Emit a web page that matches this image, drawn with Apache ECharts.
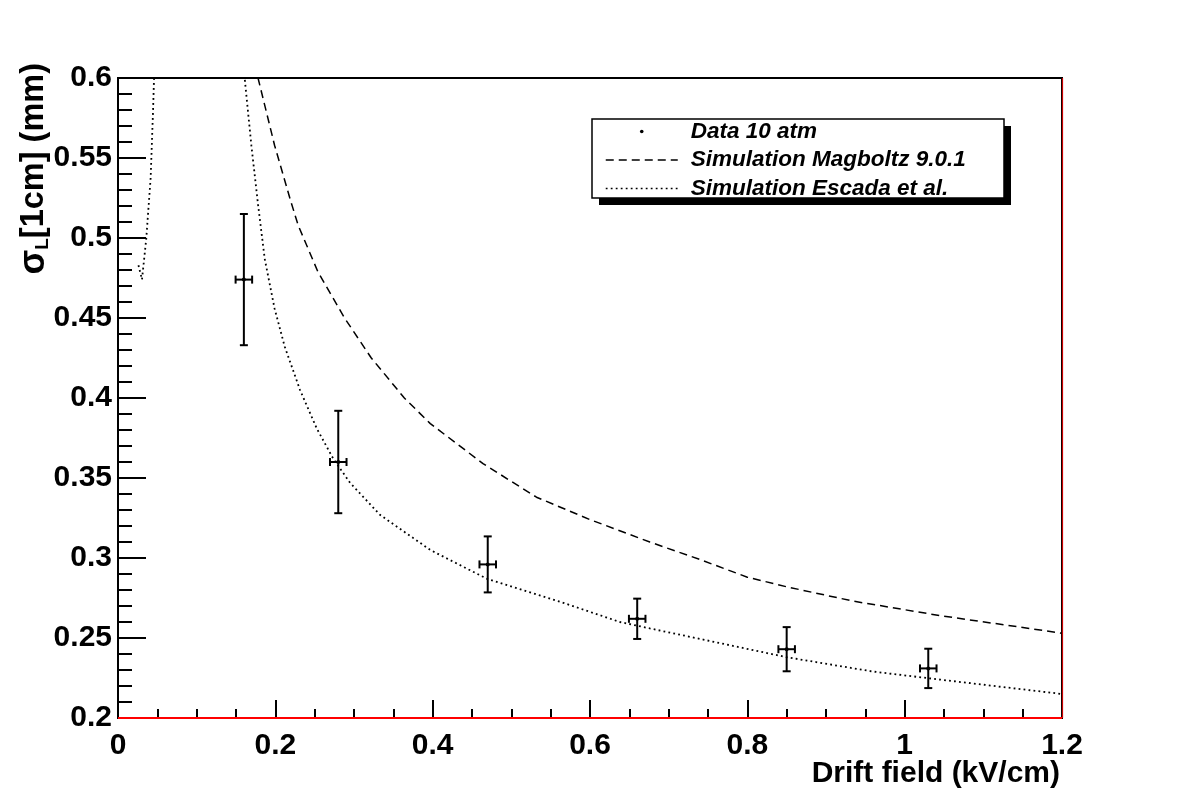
<!DOCTYPE html>
<html>
<head>
<meta charset="utf-8">
<script src="https://cdn.jsdelivr.net/npm/echarts@6/dist/echarts.min.js"></script>
<style>
html,body{margin:0;padding:0;background:#fff;}
#chart{width:1182px;height:800px;}
</style>
</head>
<body>
<div id="chart"></div>
<script>
// ---- data ----
const dataX    = [0.16, 0.28, 0.47, 0.66, 0.85, 1.03];
const dataY    = [0.474, 0.360, 0.296, 0.262, 0.243, 0.231];
const dataXErr = [0.0105, 0.0105, 0.0105, 0.0105, 0.0105, 0.0105];
const dataYErr = [0.041, 0.032, 0.0175, 0.0126, 0.0138, 0.0123];

const magboltzX = [0.17, 0.178, 0.199, 0.219, 0.229, 0.254, 0.288, 0.322, 0.364, 0.397, 0.464, 0.532, 0.60, 0.676, 0.74, 0.80, 0.85, 0.935, 1.045, 1.2];
const magboltzY = [0.616, 0.600, 0.558, 0.524, 0.508, 0.479, 0.450, 0.425, 0.400, 0.384, 0.359, 0.338, 0.324, 0.310, 0.299, 0.288, 0.282, 0.273, 0.264, 0.253];

const escadaLowX = [0.026, 0.0305, 0.036, 0.0415, 0.0445, 0.0458, 0.047];
const escadaLowY = [0.483, 0.474, 0.500, 0.5375, 0.579, 0.600, 0.630];

const escadaX = [0.158, 0.161, 0.1695, 0.178, 0.1865, 0.199, 0.212, 0.2314, 0.2526, 0.2737, 0.295, 0.333, 0.397, 0.469, 0.566, 0.638, 0.676, 0.744, 0.85, 0.96, 1.045, 1.2];
const escadaY = [0.630, 0.600, 0.558, 0.521, 0.487, 0.456, 0.432, 0.405, 0.381, 0.362, 0.347, 0.327, 0.305, 0.287, 0.272, 0.260, 0.256, 0.249, 0.238, 0.229, 0.224, 0.215];

const xRange = [0, 1.2];
const yRange = [0.2, 0.6];
const xStep = 0.2;
const yStep = 0.05;
const frameLineY = [0.2];
const frameLineX = [1.2];

const seriesNames = ['Data 10 atm', 'Simulation Magboltz 9.0.1', 'Simulation Escada et al.'];

// ---- build ----
const zip = (a, b) => a.map((v, i) => [v, b[i]]);
const errData = dataX.map((x, i) => [x, dataY[i], dataXErr[i], dataYErr[i]]);

const FONT = "'Liberation Sans', Arial, Helvetica, sans-serif";

const chart = echarts.init(document.getElementById('chart'), null, {renderer: 'canvas'});

const option = {
  backgroundColor: '#fff',
  animation: false,
  grid: {left: 118, right: 120, top: 78, bottom: 82, outerBoundsMode: 'none', containLabel: false,
         show: true, borderColor: '#000', borderWidth: 2, backgroundColor: 'rgba(0,0,0,0)'},
  graphic: [
    {type: 'rect', z: 3, silent: true, shape: {x: 599, y: 126, width: 412, height: 79}, style: {fill: '#000'}},
    {type: 'rect', z: 4, silent: true, shape: {x: 592, y: 119, width: 412, height: 79}, style: {fill: '#fff', stroke: '#000', lineWidth: 1.5}}
  ],
  legend: {
    z: 10,
    orient: 'vertical',
    left: 592, top: 119,
    itemWidth: 72, itemHeight: 14, itemGap: 5.5,
    padding: [1, 40, 1, 13],
    backgroundColor: 'rgba(0,0,0,0)',
    borderWidth: 0,
    selectedMode: false,
    lineStyle: {width: 1.5},
    textStyle: {fontFamily: FONT, fontWeight: 'bold', fontStyle: 'italic', fontSize: 22.5, color: '#000', padding: [0, 0, 0, 8]},
    data: [
      {name: seriesNames[0], icon: 'path://M0,0M72,14M34.2,7a1.8,1.8 0 1,0 3.6,0a1.8,1.8 0 1,0 -3.6,0Z', itemStyle: {color: '#000'}},
      {name: seriesNames[1], itemStyle: {opacity: 0}},
      {name: seriesNames[2], itemStyle: {opacity: 0}}
    ]
  },
  xAxis: {
    type: 'value', min: xRange[0], max: xRange[1], interval: xStep,
    name: 'Drift field (kV/cm)', nameLocation: 'end', nameGap: -2, nameMoveOverlap: false,
    nameTextStyle: {fontFamily: FONT, fontWeight: 'bold', fontSize: 30, color: '#000', align: 'right', verticalAlign: 'top', padding: [41, 0, 0, 0]},
    axisLine: {show: true, onZero: false, lineStyle: {color: '#000', width: 2}},
    axisTick: {show: true, inside: true, length: 18, lineStyle: {color: '#000', width: 2}},
    minorTick: {show: true, splitNumber: 4, length: 9, lineStyle: {color: '#000', width: 2}},
    splitLine: {show: false},
    axisLabel: {fontFamily: FONT, fontWeight: 'bold', fontSize: 30, color: '#000', margin: 13}
  },
  yAxis: {
    type: 'value', min: yRange[0], max: yRange[1], interval: yStep,
    name: '{s|σ}{sub|L}{n|[1cm] (mm)}', nameLocation: 'end', nameGap: 15, nameRotate: 90, nameMoveOverlap: false,
    nameTextStyle: {
      align: 'right', verticalAlign: 'bottom', padding: [0, 0, 66, 0],
      rich: {
        s: {fontFamily: FONT, fontWeight: 'bold', fontSize: 36, lineHeight: 36, color: '#000'},
        n: {fontFamily: FONT, fontWeight: 'bold', fontSize: 32.5, lineHeight: 32.5, color: '#000'},
        sub: {fontFamily: FONT, fontWeight: 'bold', fontSize: 19, lineHeight: 19, color: '#000', verticalAlign: 'bottom', padding: [15, 0, 0, 0]}
      }
    },
    axisLine: {show: true, onZero: false, lineStyle: {color: '#000', width: 2}},
    axisTick: {show: true, inside: true, length: 28, lineStyle: {color: '#000', width: 2}},
    minorTick: {show: true, splitNumber: 5, length: 14, lineStyle: {color: '#000', width: 2}},
    splitLine: {show: false},
    axisLabel: {fontFamily: FONT, fontWeight: 'bold', fontSize: 30, color: '#000', margin: 6}
  },
  series: [
    {
      name: seriesNames[1], type: 'line', data: zip(magboltzX, magboltzY),
      showSymbol: false, symbol: 'none', smooth: false, clip: true, silent: true,
      itemStyle: {color: '#000'},
      lineStyle: {color: '#000', width: 1.5, type: [8, 5]}
    },
    {
      name: seriesNames[2], type: 'line', data: zip(escadaLowX, escadaLowY),
      showSymbol: false, symbol: 'none', smooth: false, clip: true, silent: true,
      itemStyle: {color: '#000'},
      lineStyle: {color: '#000', width: 1.8, type: [1.8, 3.2]}
    },
    {
      name: seriesNames[2], type: 'line', data: zip(escadaX, escadaY),
      showSymbol: false, symbol: 'none', smooth: false, clip: true, silent: true,
      itemStyle: {color: '#000'},
      lineStyle: {color: '#000', width: 1.8, type: [1.8, 3.2]}
    },
    {
      name: seriesNames[0], type: 'custom', data: errData, silent: true,
      itemStyle: {color: '#000'},
      encode: {x: 0, y: 1},
      renderItem: function (params, api) {
        const x = api.value(0), y = api.value(1), ex = api.value(2), ey = api.value(3);
        const c = api.coord([x, y]);
        const t = api.coord([x, y + ey]);
        const b = api.coord([x, y - ey]);
        const l = api.coord([x - ex, y]);
        const r = api.coord([x + ex, y]);
        const cap = 4;
        const st = {stroke: '#000', lineWidth: 2};
        return {
          type: 'group',
          children: [
            {type: 'line', shape: {x1: t[0], y1: t[1], x2: b[0], y2: b[1]}, style: st},
            {type: 'line', shape: {x1: t[0] - cap, y1: t[1], x2: t[0] + cap, y2: t[1]}, style: st},
            {type: 'line', shape: {x1: b[0] - cap, y1: b[1], x2: b[0] + cap, y2: b[1]}, style: st},
            {type: 'line', shape: {x1: l[0], y1: l[1], x2: r[0], y2: r[1]}, style: st},
            {type: 'line', shape: {x1: l[0], y1: l[1] - cap, x2: l[0], y2: l[1] + cap}, style: st},
            {type: 'line', shape: {x1: r[0], y1: r[1] - cap, x2: r[0], y2: r[1] + cap}, style: st},
            {type: 'circle', shape: {cx: c[0], cy: c[1], r: 2}, style: {fill: '#000'}}
          ]
        };
      }
    },
    {
      name: 'frame', type: 'line', data: [], silent: true,
      markLine: {
        silent: true, symbol: 'none', label: {show: false},
        lineStyle: {color: '#ff0000', width: 2, type: 'solid'},
        data: [
          {yAxis: frameLineY[0]},
          {xAxis: frameLineX[0], lineStyle: {color: '#cc0000', width: 1.2, type: 'solid'}}
        ]
      }
    }
  ]
};

chart.setOption(option);
</script>
</body>
</html>
